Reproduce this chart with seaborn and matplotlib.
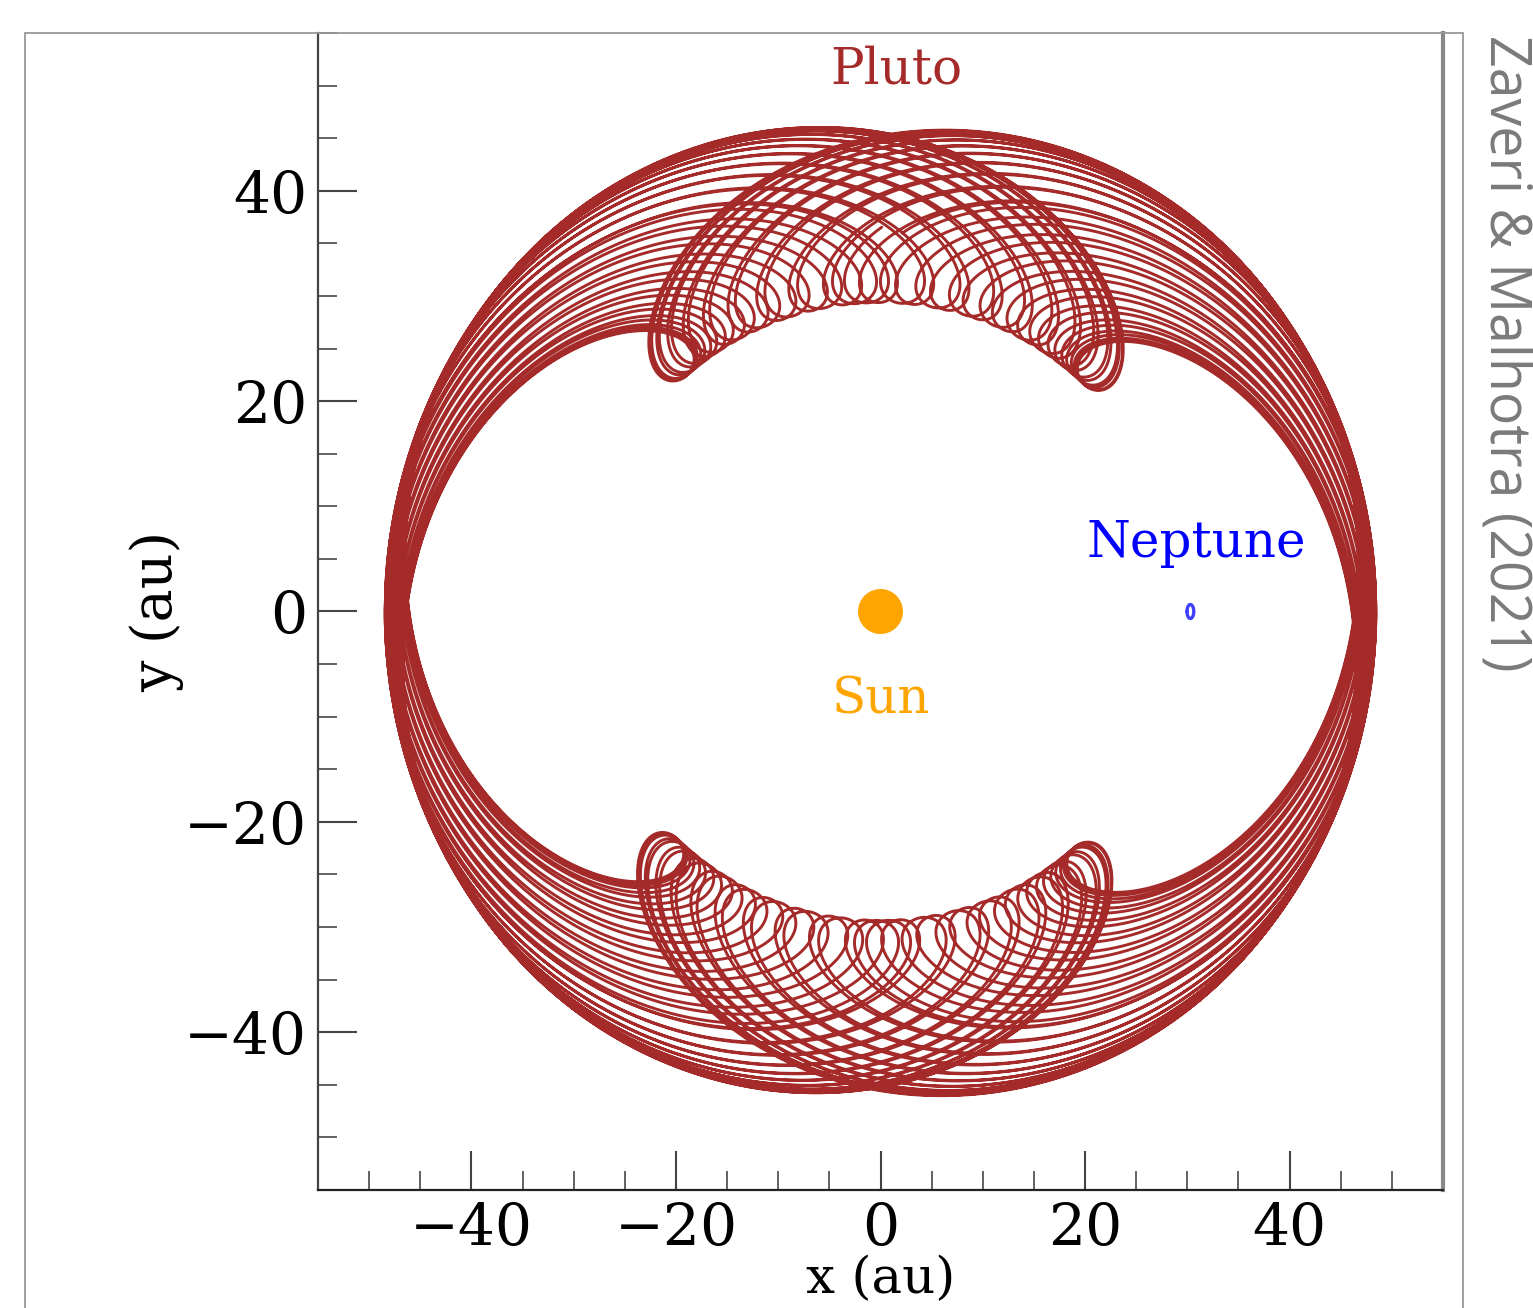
import numpy as np
import pandas as pd
import matplotlib.pyplot as plt
import seaborn as sns
from matplotlib.patches import Rectangle
from matplotlib.ticker import MultipleLocator

# Orbit parameters (au, degrees, Neptune periods)
pluto_a = 38.9
pluto_e = 0.245
lib_center = 177.5      # resonant angle centre
lib_amp = 83.0          # resonant angle amplitude
lib_period = 121.0      # libration period in Neptune orbits
span = 123.0            # length of the integration shown
neptune_a = 30.3
neptune_e = 0.011

sun_x = [0.0]
sun_y = [0.0]

labels = ['Pluto', 'Neptune', 'Sun']
label_x = [1.5, 30.9, 0.0]
label_y = [51.5, 6.5, -8.4]
label_colors = ['brown', 'blue', 'orange']

xticks = [-40, -20, 0, 20, 40]
yticks = [-40, -20, 0, 20, 40]


def kepler_orbit(M, a, e):
    """Return radius and true anomaly for mean anomaly M."""
    E = M.copy()
    for _ in range(30):
        E = E - (E - e * np.sin(E) - M) / (1 - e * np.cos(E))
    f = 2 * np.arctan2(np.sqrt(1 + e) * np.sin(E / 2), np.sqrt(1 - e) * np.cos(E / 2))
    r = a * (1 - e * np.cos(E))
    return r, f


# Pluto in the frame rotating with Neptune
t = np.linspace(0, span, 60000)
lam_n = 2 * np.pi * t
phi = np.radians(lib_center + lib_amp * np.sin(2 * np.pi * t / lib_period))
lam_p = (2 * lam_n + phi) / 3
r_p, f_p = kepler_orbit(lam_p, pluto_a, pluto_e)
theta_p = f_p - lam_n
pluto = pd.DataFrame({'x': r_p * np.cos(theta_p), 'y': r_p * np.sin(theta_p)})

# Neptune's small epicycle
tn = np.linspace(0, 1, 400)
Mn = 2 * np.pi * tn
r_n, f_n = kepler_orbit(Mn, neptune_a, neptune_e)
theta_n = f_n - Mn
neptune = pd.DataFrame({'x': r_n * np.cos(theta_n), 'y': r_n * np.sin(theta_n)})

sns.set_style('ticks')
plt.rcParams['font.family'] = ['DejaVu Serif']
plt.rcParams['text.color'] = 'black'
plt.rcParams['axes.labelcolor'] = 'black'
plt.rcParams['xtick.labelcolor'] = 'black'
plt.rcParams['ytick.labelcolor'] = 'black'

fig = plt.figure(figsize=(15.33, 13.08), dpi=100)
ax = fig.add_axes([318 / 1533, 1 - 1190 / 1308, 1125 / 1533, 1157 / 1308])

sns.lineplot(data=pluto, x='x', y='y', sort=False, estimator=None, ax=ax,
             color='#a52a2a', lw=2.1, alpha=1.0)
sns.lineplot(data=neptune, x='x', y='y', sort=False, estimator=None, ax=ax,
             color='blue', lw=2.4, alpha=0.75)
sns.scatterplot(x=sun_x, y=sun_y, s=1050, color='orange', edgecolor='none', ax=ax, zorder=5)

for lab, lx, ly, c in zip(labels, label_x, label_y, label_colors):
    ax.text(lx, ly, lab, color=c, fontsize=36, ha='center', va='center')

ax.set_xlim(-55, 55)
ax.set_ylim(-55, 55)
ax.set_xticks(xticks)
ax.set_yticks(yticks)
ax.xaxis.set_minor_locator(MultipleLocator(5))
ax.yaxis.set_minor_locator(MultipleLocator(5))
ax.tick_params(which='major', direction='in', length=28, width=1.5, color='#444444',
               labelsize=42, pad=8)
ax.tick_params(which='minor', direction='in', length=14, width=1.3, color='#555555')
ax.set_xlabel('x (au)', fontsize=37, labelpad=-2)
ax.set_ylabel('y (au)', fontsize=40, labelpad=0)

ax.spines['top'].set_visible(False)
ax.spines['left'].set_color('#444444')
ax.spines['bottom'].set_color('#222222')
ax.spines['left'].set_linewidth(1.6)
ax.spines['bottom'].set_linewidth(1.6)
ax.spines['right'].set_color('#888888')
ax.spines['right'].set_linewidth(3)

# outer frame of the panel
fig.patches.append(Rectangle((25 / 1533, -0.05), (1463 - 25) / 1533, 1.05 - 33 / 1308,
                             transform=fig.transFigure, fill=False,
                             edgecolor='#999999', lw=1.3))

fig.text(1505 / 1533, 1 - 35 / 1308, 'Zaveri & Malhotra (2021)', rotation=-90,
         fontsize=40, color='#7a7a7a', family=['Open Sans', 'DejaVu Sans'],
         ha='center', va='top')

fig.savefig('out.png', dpi=100)
